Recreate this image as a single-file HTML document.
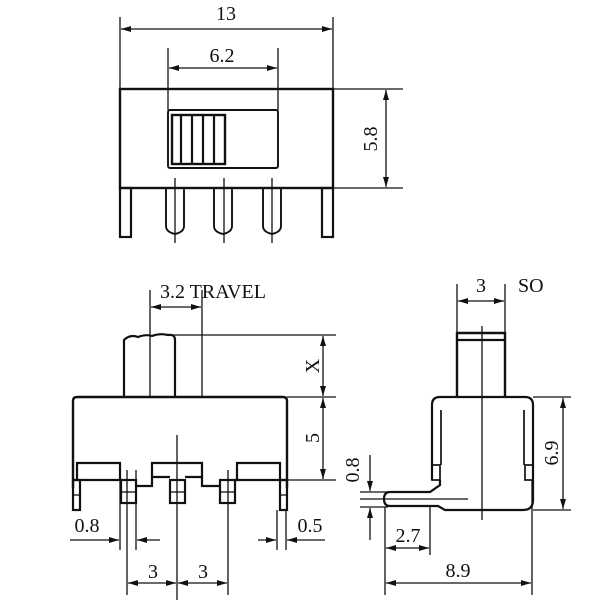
<!DOCTYPE html>
<html><head><style>body{margin:0;background:#fff}svg{display:block}text{font-family:"Liberation Serif",serif;font-size:20px;fill:#111}</style></head><body>
<svg width="600" height="600" viewBox="0 0 600 600" xmlns="http://www.w3.org/2000/svg">
<defs>
<marker id="a" viewBox="0 0 10 6" refX="10" refY="3" markerWidth="11" markerHeight="6" orient="auto-start-reverse" markerUnits="userSpaceOnUse"><path d="M0,0L10,3L0,6z" fill="#111"/></marker>
</defs>
<g stroke="#111" fill="none" stroke-width="1.3">
<!-- TOP VIEW -->
<line x1="120" y1="17" x2="120" y2="89"/><line x1="333" y1="17" x2="333" y2="89"/>
<line x1="121" y1="29" x2="332" y2="29" marker-start="url(#a)" marker-end="url(#a)"/>
<line x1="168" y1="48" x2="168" y2="110"/><line x1="278" y1="48" x2="278" y2="110"/>
<line x1="169" y1="68" x2="277" y2="68" marker-start="url(#a)" marker-end="url(#a)"/>
<rect x="120" y="89" width="213" height="99" stroke-width="2.4"/>
<rect x="168" y="110" width="110" height="58" rx="2" stroke-width="1.9"/>
<rect x="172" y="115" width="53" height="49" stroke-width="2.4"/>
<line x1="181" y1="115" x2="181" y2="164" stroke-width="2.2"/><line x1="192" y1="115" x2="192" y2="164" stroke-width="2.2"/><line x1="203" y1="115" x2="203" y2="164" stroke-width="2.2"/><line x1="214" y1="115" x2="214" y2="164" stroke-width="2.2"/>
<line x1="333" y1="89" x2="403" y2="89"/><line x1="333" y1="188" x2="403" y2="188"/>
<line x1="386" y1="90" x2="386" y2="187" marker-start="url(#a)" marker-end="url(#a)"/>
<rect x="120" y="188" width="11" height="49" stroke-width="2.2"/><rect x="322" y="188" width="11" height="49" stroke-width="2.2"/>
<path d="M166,188V226Q166,232 175,234Q184,232 184,226V188" stroke-width="1.9"/>
<path d="M214,188V226Q214,232 223,234Q232,232 232,226V188" stroke-width="1.9"/>
<path d="M263,188V226Q263,232 272,234Q281,232 281,226V188" stroke-width="1.9"/>
<line x1="175" y1="178" x2="175" y2="243"/><line x1="224" y1="178" x2="224" y2="243"/><line x1="272" y1="178" x2="272" y2="243"/>
<!-- BOTTOM LEFT -->
<line x1="150" y1="290" x2="150" y2="397"/><line x1="202" y1="290" x2="202" y2="397"/>
<line x1="151" y1="307" x2="201" y2="307" marker-start="url(#a)" marker-end="url(#a)"/>
<path d="M124,397V340Q130,334 138,337Q146,334 152,336Q160,333 168,335Q175,334 175,340V397" stroke-width="2.2"/>
<line x1="170" y1="335" x2="336" y2="335"/><line x1="287" y1="397" x2="336" y2="397"/><line x1="287" y1="480" x2="336" y2="480"/>
<line x1="323" y1="336" x2="323" y2="396" marker-start="url(#a)" marker-end="url(#a)"/>
<line x1="323" y1="398" x2="323" y2="479" marker-start="url(#a)" marker-end="url(#a)"/>
<path d="M73,488V401Q73,397 77,397H283Q287,397 287,401V488" stroke-width="2.4"/>
<path d="M77,480V463H120V480M152,477V463H202V477M237,480V463H280V480" stroke-width="2.2"/>
<path d="M73,480H121M136,486H152V477H170M185,477H202V486H220M235,480H287" stroke-width="2.2"/>
<rect x="73" y="480" width="7" height="30" stroke-width="2.2"/><line x1="73" y1="495" x2="80" y2="495"/>
<rect x="280" y="480" width="7" height="30" stroke-width="2.2"/><line x1="280" y1="495" x2="287" y2="495"/>
<rect x="121" y="480" width="15" height="23" stroke-width="2.2"/><line x1="121" y1="492" x2="136" y2="492"/>
<rect x="170" y="480" width="15" height="23" stroke-width="2.2"/><line x1="170" y1="492" x2="185" y2="492"/>
<rect x="220" y="480" width="15" height="23" stroke-width="2.2"/><line x1="220" y1="492" x2="235" y2="492"/>
<line x1="177" y1="435" x2="177" y2="600"/>
<line x1="127" y1="470" x2="127" y2="595"/><line x1="228" y1="470" x2="228" y2="595"/>
<line x1="128" y1="583" x2="176" y2="583" marker-start="url(#a)" marker-end="url(#a)"/>
<line x1="178" y1="583" x2="227" y2="583" marker-start="url(#a)" marker-end="url(#a)"/>
<line x1="120" y1="470" x2="120" y2="550"/><line x1="136" y1="470" x2="136" y2="550"/>
<line x1="70" y1="540" x2="119" y2="540" marker-end="url(#a)"/><line x1="160" y1="540" x2="137" y2="540" marker-end="url(#a)"/>
<line x1="277" y1="510" x2="277" y2="550"/><line x1="286" y1="510" x2="286" y2="550"/>
<line x1="258" y1="540" x2="276" y2="540" marker-end="url(#a)"/><line x1="325" y1="540" x2="287" y2="540" marker-end="url(#a)"/>
<!-- RIGHT VIEW -->
<line x1="457" y1="284" x2="457" y2="333"/><line x1="505" y1="284" x2="505" y2="333"/>
<line x1="458" y1="301" x2="504" y2="301" marker-start="url(#a)" marker-end="url(#a)"/>
<path d="M457,397V333H505V397" stroke-width="2.4"/><line x1="457" y1="340" x2="505" y2="340" stroke-width="2.2"/>
<line x1="482" y1="326" x2="482" y2="520"/>
<path d="M432,480V405Q432,397 440,397H525Q533,397 533,405V500Q533,510 523,510H445L438,506H390Q384,506 384,499Q384,492 390,492H430L440,485V480" stroke-width="2.2"/>
<line x1="441" y1="410" x2="441" y2="465" stroke-width="1.7"/><line x1="524" y1="410" x2="524" y2="465" stroke-width="1.7"/>
<rect x="432" y="465" width="8" height="15" stroke-width="1.7"/><rect x="525" y="465" width="8" height="15" stroke-width="1.7"/>
<line x1="360" y1="499" x2="468" y2="499"/>
<line x1="360" y1="492" x2="388" y2="492"/><line x1="360" y1="507" x2="388" y2="507"/>
<line x1="370" y1="455" x2="370" y2="491" marker-end="url(#a)"/><line x1="370" y1="540" x2="370" y2="508" marker-end="url(#a)"/>
<line x1="533" y1="397" x2="571" y2="397"/><line x1="533" y1="510" x2="571" y2="510"/>
<line x1="563" y1="398" x2="563" y2="509" marker-start="url(#a)" marker-end="url(#a)"/>
<line x1="385" y1="507" x2="385" y2="595"/><line x1="430" y1="506" x2="430" y2="555"/><line x1="532" y1="480" x2="532" y2="595"/>
<line x1="386" y1="548" x2="429" y2="548" marker-start="url(#a)" marker-end="url(#a)"/>
<line x1="386" y1="583" x2="531" y2="583" marker-start="url(#a)" marker-end="url(#a)"/>
</g>
<text x="226" y="20" text-anchor="middle">13</text>
<text x="222" y="62" text-anchor="middle">6.2</text>
<text transform="translate(377,139) rotate(-90)" text-anchor="middle">5.8</text>
<text x="160" y="298">3.2 TRAVEL</text>
<text transform="translate(319,366) rotate(-90)" text-anchor="middle">X</text>
<text transform="translate(319,438) rotate(-90)" text-anchor="middle">5</text>
<text x="87" y="532" text-anchor="middle">0.8</text>
<text x="310" y="532" text-anchor="middle">0.5</text>
<text x="153" y="578" text-anchor="middle">3</text>
<text x="203" y="578" text-anchor="middle">3</text>
<text x="481" y="292" text-anchor="middle">3</text>
<text x="518" y="292">SO</text>
<text transform="translate(558,453) rotate(-90)" text-anchor="middle">6.9</text>
<text transform="translate(359,470) rotate(-90)" text-anchor="middle">0.8</text>
<text x="408" y="542" text-anchor="middle">2.7</text>
<text x="458" y="577" text-anchor="middle">8.9</text>
</svg>
</body></html>
